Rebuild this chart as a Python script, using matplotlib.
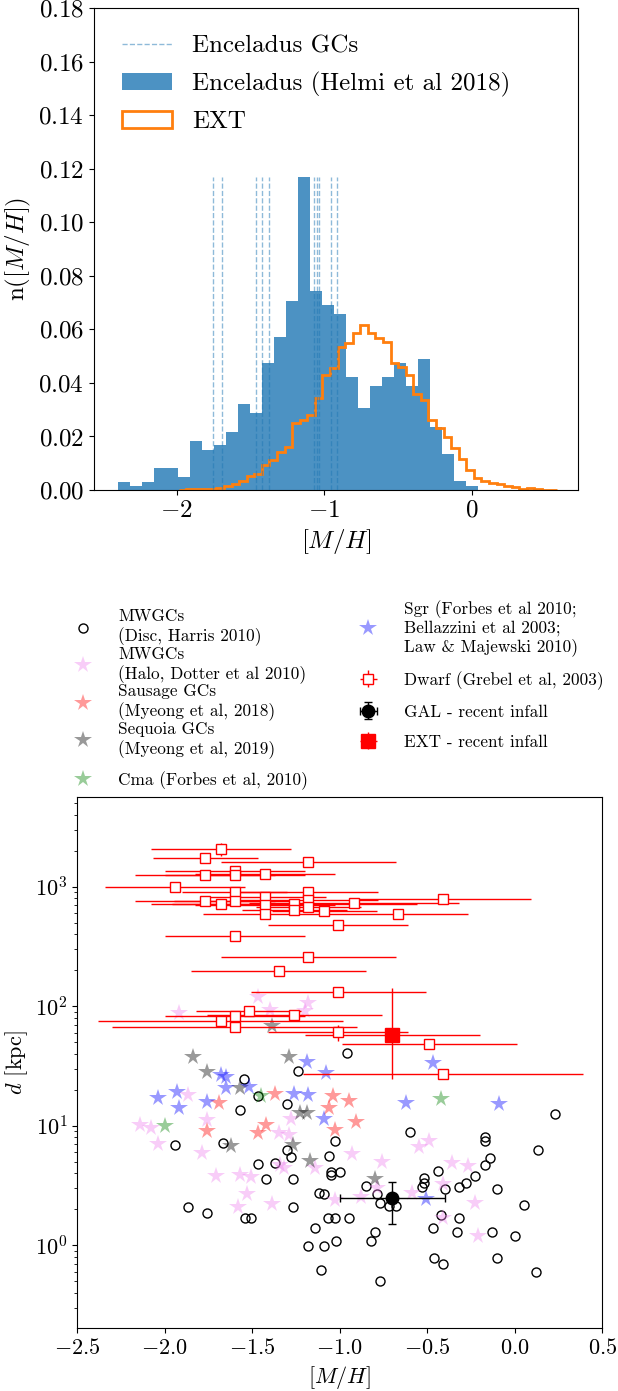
import numpy as np
import matplotlib.pyplot as plt

plt.rcParams['font.family'] = 'serif'
plt.rcParams['font.serif'] = ['cmr10']
plt.rcParams['mathtext.fontset'] = 'cm'
plt.rcParams['axes.formatter.use_mathtext'] = True
plt.rcParams['axes.unicode_minus'] = True

# ---- top panel: [M/H] distributions (fractions per bin) ----
enc_range = (-2.396, 0.045)
enc_frac = [0.0031, 0.0016, 0.0031, 0.0083, 0.0083, 0.0050, 0.0184, 0.0149,
            0.0168, 0.0218, 0.0320, 0.0286, 0.0473, 0.0573, 0.0707, 0.1168,
            0.0743, 0.0692, 0.0657, 0.0423, 0.0305, 0.0388, 0.0423, 0.0473,
            0.0388, 0.0489, 0.0237, 0.0134, 0.0034, 0.0016]

ext_range = (-1.987, 0.580)
ext_frac = [0.0002, 0.0003, 0.0004, 0.0004, 0.0005, 0.0008, 0.0015, 0.0021,
            0.0034, 0.0054, 0.0059, 0.0093, 0.0112, 0.0143, 0.0162, 0.0249,
            0.0261, 0.0280, 0.0342, 0.0430, 0.0454, 0.0535, 0.0550, 0.0585,
            0.0616, 0.0585, 0.0569, 0.0554, 0.0476, 0.0461, 0.0430, 0.0357,
            0.0336, 0.0261, 0.0230, 0.0199, 0.0156, 0.0116, 0.0075, 0.0044,
            0.0034, 0.0027, 0.0021, 0.0016, 0.0010, 0.0004, 0.0006, 0.0005,
            0.0002, 0.0001]

enc_gc_mh = [-1.752, -1.691, -1.462, -1.424, -1.372, -1.067, -1.051, -1.035,
             -0.956, -0.915]

# ---- bottom panel: [M/H] vs distance (kpc) ----
disc_mh = [-0.96, -1.24, -1.55, -1.47, -1.30, -1.57, -1.03, -1.94, -1.67, -1.30,
           -1.28, -1.06, -1.47, -1.37, -1.42, -1.27, -1.05, -1.05, -1.00, -1.87,
           -1.76, -1.27, -1.54, -1.51, -1.12, -1.09, -1.07, -1.03, -1.14, -1.18,
           -1.09, -1.02, -1.11, 0.23, -0.60, -0.17, -0.17, 0.13, -0.14, -0.17,
           -0.44, -0.23, -0.52, -0.52, -0.53, -0.40, -0.32, -0.28, -0.10, -0.85,
           -0.79, -0.77, -0.72, -0.68, -0.95, -0.42, -0.32, 0.05, -0.47, -0.33,
           -0.13, 0.00, -0.80, -0.82, -0.46, -0.41, -0.10, 0.12, -0.77]
disc_d = [40.4, 28.9, 24.7, 17.6, 15.3, 13.5, 7.4, 6.9, 7.2, 6.3,
          5.5, 5.6, 4.8, 4.9, 3.56, 3.6, 4.1, 3.9, 4.1, 2.08,
          1.88, 2.08, 1.68, 1.68, 2.75, 2.67, 1.68, 1.68, 1.39, 0.99,
          0.99, 1.09, 0.62, 12.6, 8.9, 8.0, 7.5, 6.3, 5.4, 4.7,
          4.2, 3.83, 3.68, 3.34, 3.05, 2.96, 3.05, 3.34, 2.96, 3.13,
          2.67, 2.24, 2.15, 2.15, 1.68, 1.8, 1.68, 2.17, 1.39, 1.28,
          1.28, 1.2, 1.28, 1.09, 0.79, 0.70, 0.79, 0.60, 0.50]

halo_mh = [-1.47, -1.92, -1.40, -1.18, -1.20, -1.87, -1.28, -2.14, -2.08, -2.04,
           -1.76, -1.35, -1.29, -1.79, -1.14, -1.34, -1.32, -1.71, -1.57, -1.51,
           -1.53, -1.58, -1.39, -1.03, -0.55, -0.49, -0.93, -0.76, -0.36, -0.27,
           -0.41, -0.79, -0.88, -0.59, -0.23, -0.41, -0.21]
halo_d = [120, 88, 93, 107, 92, 18.1, 11.5, 10.2, 9.5, 7.1,
          11.2, 8.7, 8.4, 5.9, 4.4, 4.7, 4.4, 3.8, 3.9, 3.75,
          2.7, 2.1, 2.2, 2.39, 6.6, 7.4, 5.8, 5.0, 4.9, 4.6,
          3.26, 3.0, 2.55, 2.72, 2.24, 1.68, 1.2]

saus_mh = [-1.37, -1.69, -1.04, -1.06, -0.95, -0.91, -1.03, -1.76, -1.42, -1.47]
saus_d = [18.3, 15.4, 17.9, 14.0, 16.2, 10.8, 9.2, 9.1, 10.2, 8.7]

seq_mh = [-1.39, -1.84, -1.29, -1.76, -1.57, -1.23, -1.19, -1.27, -1.62, -1.17, -0.80]
seq_d = [68.9, 37.9, 37.9, 28.4, 20.6, 12.7, 12.7, 6.9, 6.8, 5.1, 3.57]

cma_mh = [-1.45, -2.00, -0.42]
cma_d = [17.8, 10.0, 16.7]

sgr_mh = [-1.19, -0.47, -1.68, -1.65, -1.65, -1.52, -2.04, -1.93, -1.92, -1.76,
          -1.26, -1.18, -1.09, -1.08, -0.62, -0.09, -0.51]
sgr_d = [34.4, 33.7, 26.6, 25.7, 20.6, 21.2, 17.0, 19.1, 14.0, 15.9,
         18.5, 18.1, 11.5, 27.5, 15.4, 15.2, 2.43]

dw_mh = [-1.68, -1.77, -1.18, -1.60, -1.60, -1.77, -1.43, -1.94, -1.60, -1.18,
         -1.77, -1.68, -1.60, -1.43, -1.43, -1.43, -1.26, -1.26, -1.18, -1.18,
         -1.09, -0.92, -0.41, -0.67, -1.01, -1.60, -1.18, -1.35, -1.01, -1.52,
         -1.60, -1.26, -1.68, -1.60, -1.01, -0.49, -0.41]
dw_d = [2070, 1754, 1603, 1355, 1247, 1256, 1288, 1002, 899, 899,
        760, 722, 760, 816, 705, 589, 718, 640, 776, 683,
        627, 727, 790, 589, 476, 387, 259, 196, 132, 91,
        83, 84.5, 76, 67, 60.5, 48.3, 27.1]
dw_xerr = [0.4, 0.3, 0.5, 0.4, 0.4, 0.4, 0.4, 0.4, 0.3, 0.4,
           0.4, 0.4, 0.35, 0.35, 0.4, 0.35, 0.7, 0.3, 0.4, 0.3,
           0.3, 0.6, 0.5, 0.4, 0.4, 0.4, 0.5, 0.5, 0.5, 0.3,
           0.4, 0.5, 0.7, 0.7, 0.4, 0.5, 0.8]
dw_yerr = [250, 0, 0, 0, 0, 0, 0, 0, 0, 0,
           0, 70, 0, 0, 0, 0, 0, 0, 0, 0,
           0, 0, 0, 0, 0, 0, 0, 0, 0, 0,
           0, 0, 0, 0, 9, 0, 0]

gal_mh, gal_d = [-0.70], [2.47]
gal_xerr = [0.3]
gal_yerr = [[0.97], [0.93]]

ext_mh, ext_d = [-0.70], [57.5]
ext_xerr = [0.5]
ext_yerr = [[33.0], [85.5]]

fig = plt.figure(figsize=(6.18, 13.91), dpi=100)

# ---------------- top panel ----------------
ax1 = fig.add_axes([0.152, 0.6477, 0.7832, 0.3465])
enc_edges = np.linspace(enc_range[0], enc_range[1], len(enc_frac) + 1)
ext_edges = np.linspace(ext_range[0], ext_range[1], len(ext_frac) + 1)
enc_mid = 0.5 * (enc_edges[1:] + enc_edges[:-1])
ext_mid = 0.5 * (ext_edges[1:] + ext_edges[:-1])

ax1.vlines(enc_gc_mh, 0, max(enc_frac), colors='C0', linestyles='--', lw=1,
           alpha=0.5, zorder=3, label='Enceladus GCs')
ax1.hist(enc_mid, bins=enc_edges, weights=enc_frac, color='C0', alpha=0.8,
         label='Enceladus (Helmi et al 2018)')
ax1.hist(ext_mid, bins=ext_edges, weights=ext_frac, histtype='step',
         color='C1', lw=2, label='EXT')

ax1.set_xlim(-2.561, 0.721)
ax1.set_ylim(0, 0.18)
ax1.set_xlabel(r'$[M/H]$', fontsize=18)
ax1.set_ylabel(r'n($[M/H]$)', fontsize=18)
ax1.tick_params(labelsize=18)
ax1.legend(loc='upper left', bbox_to_anchor=(0.012, 0.99), fontsize=18,
           frameon=False, labelspacing=0.56)

# ---------------- bottom panel ----------------
ax2 = fig.add_axes([0.1251, 0.04508, 0.8495, 0.3817])

star_kw = dict(ls='none', marker='*', ms=13, mew=0, alpha=0.4)
h_disc, = ax2.plot(disc_mh, disc_d, 'o', ls='none', mfc='none', mec='k',
                   ms=6.5, mew=1, label='MWGCs\n(Disc, Harris 2010)')
h_halo, = ax2.plot(halo_mh, halo_d, color='violet', **star_kw,
                   label='MWGCs\n(Halo, Dotter et al 2010)')
h_saus, = ax2.plot(saus_mh, saus_d, color='red', **star_kw,
                   label='Sausage GCs\n(Myeong et al, 2018)')
h_seq, = ax2.plot(seq_mh, seq_d, color='k', **star_kw,
                  label='Sequoia GCs\n(Myeong et al, 2019)')
h_cma, = ax2.plot(cma_mh, cma_d, color='green', **star_kw,
                  label='Cma (Forbes et al, 2010)')
h_sgr, = ax2.plot(sgr_mh, sgr_d, color='blue', **star_kw,
                  label='Sgr (Forbes et al 2010;\nBellazzini et al 2003;\nLaw & Majewski 2010)')
h_dw = ax2.errorbar(dw_mh, dw_d, xerr=dw_xerr, yerr=dw_yerr, fmt='s',
                    color='red', mfc='white', mec='red', ms=7, elinewidth=1,
                    label='Dwarf (Grebel et al, 2003)')
h_gal = ax2.errorbar(gal_mh, gal_d, xerr=gal_xerr, yerr=gal_yerr, fmt='o',
                     color='k', ms=9, elinewidth=1, capsize=3,
                     label='GAL - recent infall')
h_ext = ax2.errorbar(ext_mh, ext_d, xerr=ext_xerr, yerr=ext_yerr, fmt='s',
                     color='red', ms=10, elinewidth=1,
                     label='EXT - recent infall')

ax2.set_yscale('log')
ax2.set_xlim(-2.5, 0.5)
ax2.set_ylim(0.202, 5600)
ax2.set_xlabel(r'$[M/H]$', fontsize=16)
ax2.set_ylabel(r'$d$ [kpc]', fontsize=16)
ax2.tick_params(labelsize=16)

leg_kw = dict(loc='upper left', fontsize=12.4, frameon=False,
              handletextpad=1.05, borderaxespad=0)
leg_left = ax2.legend(handles=[h_disc, h_halo, h_saus, h_seq],
                      bbox_to_anchor=(-0.035, 1.368), labelspacing=0.0, **leg_kw)
for t in leg_left.get_texts():
    t.set_linespacing(1.25)
ax2.add_artist(leg_left)
leg_cma = ax2.legend(handles=[h_cma], bbox_to_anchor=(-0.035, 1.0614), **leg_kw)
ax2.add_artist(leg_cma)
ax2.legend(handles=[h_sgr, h_dw, h_gal, h_ext],
           bbox_to_anchor=(0.5084, 1.385), labelspacing=0.85, **leg_kw)

fig.savefig('out.png', dpi=100)
